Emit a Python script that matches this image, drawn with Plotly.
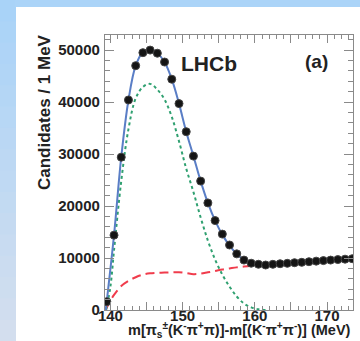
import plotly.graph_objects as go

# ---- data ----
bin_centers = [139.5, 140.5, 141.5, 142.5, 143.5, 144.5, 145.5, 146.5, 147.5, 148.5,
               149.5, 150.5, 151.5, 152.5, 153.5, 154.5, 155.5, 156.5, 157.5, 158.5,
               159.5, 160.5, 161.5, 162.5, 163.5, 164.5, 165.5, 166.5, 167.5, 168.5,
               169.5, 170.5, 171.5, 172.5, 173.5]
candidates = [1600, 14400, 29400, 40400, 47000, 49500, 50000, 49400, 47700, 44400,
              39700, 34300, 29600, 24800, 20600, 17200, 14600, 12500, 10800, 9600,
              9000, 8800, 8650, 8790, 8900, 8980, 9100, 9170, 9290, 9400,
              9500, 9600, 9700, 9780, 9870]

fit_x = [139.35, 139.5, 140.5, 141.5, 142.5, 143.5, 144.5, 145.5, 146.5, 147.5, 148.5,
         149.5, 150.5, 151.5, 152.5, 153.5, 154.5, 155.5, 156.5, 157.5, 158.5,
         159.5, 160.5, 161.5, 162.5, 163.5, 164.5, 165.5, 166.5, 167.5, 168.5,
         169.5, 170.5, 171.5, 172.5, 173.6]
fit_total = [0, 1700, 14400, 29400, 40400, 47000, 49600, 50100, 49400, 47700, 44400,
             39700, 34300, 29600, 24800, 20600, 17200, 14500, 12400, 10800, 9600,
             9000, 8750, 8700, 8780, 8880, 8980, 9080, 9180, 9280, 9380,
             9480, 9580, 9680, 9770, 9870]

sig_x = [139.4, 140.0, 140.5, 141.5, 142.5, 143.5, 144.5, 145.5, 146.5, 147.5, 148.5,
         149.5, 150.5, 151.5, 152.5, 153.5, 154.5, 155.5, 156.5, 157.5, 158.5,
         159.5, 160.5, 161.5]
sig_y = [0, 4500, 11500, 24800, 34800, 40700, 42900, 43500, 42400, 40500, 37150,
         32450, 27200, 22700, 17800, 13350, 9700, 6800, 4500, 2600, 1250,
         500, 150, 0]

bkg_x = [139.35, 139.8, 140.5, 141.5, 142.5, 143.5, 144.5, 145.5, 146.5, 147.5, 148.5,
         149.5, 150.5, 151.5, 152.5, 153.5, 154.5, 155.5, 156.5, 157.5, 158.5,
         159.5, 160.5, 161.5, 163.5, 165.5, 167.5, 169.5, 171.5, 173.6]
bkg_y = [0, 1300, 2900, 4600, 5600, 6300, 6800, 7050, 7150, 7200, 7250,
         7250, 7100, 6900, 7000, 7250, 7500, 7800, 8000, 8200, 8350,
         8500, 8650, 8700, 8880, 9080, 9280, 9480, 9680, 9870]

x_tickvals = [140, 145, 150, 155, 160, 165, 170]
x_ticktext = ["140", "", "150", "", "160", "", "170"]
y_tickvals = [0, 10000, 20000, 30000, 40000, 50000]
y_ticktext = ["0", "10000", "20000", "30000", "40000", "50000"]

# ---- figure ----
fig = go.Figure()
fig.add_trace(go.Scatter(x=bkg_x, y=bkg_y, mode="lines",
                         line=dict(color="#f03c4c", width=2, dash="9px,5px", shape="spline"),
                         hoverinfo="skip"))
fig.add_trace(go.Scatter(x=sig_x, y=sig_y, mode="lines",
                         line=dict(color="#2fa070", width=2, dash="dot", shape="spline"),
                         hoverinfo="skip"))
fig.add_trace(go.Scatter(x=fit_x, y=fit_total, mode="lines",
                         line=dict(color="#5a7ec6", width=2, shape="spline"),
                         hoverinfo="skip"))
fig.add_trace(go.Scatter(x=bin_centers, y=candidates, mode="markers",
                         marker=dict(color="#151515", size=8,
                                     line=dict(color="#444444", width=1))))

L, R, T, B = 105, 7, 35, 31
W, H = 360, 341
pw, ph = W - L - R, H - T - B

def px_x(px):
    return (px - L) / pw

def px_y(py):
    return (H - B - py) / ph

# background: blue gradient frame on left/top, white page
shapes = []
n = 16
c0 = (0xA9, 0xD3, 0xF8)
c1 = (0xD3, 0xDE, 0xEE)
for i in range(n):
    t = i / (n - 1)
    col = "rgb(%d,%d,%d)" % tuple(round(c0[j] + (c1[j] - c0[j]) * t) for j in range(3))
    y_top = H * i / n
    y_bot = H * (i + 1) / n + 1
    shapes.append(dict(type="rect", xref="paper", yref="paper", layer="below",
                       x0=px_x(-2), x1=px_x(16), y0=px_y(y_bot), y1=px_y(y_top),
                       line=dict(width=0), fillcolor=col))
shapes.append(dict(type="rect", xref="paper", yref="paper", layer="below",
                   x0=px_x(15), x1=px_x(W + 2), y0=px_y(7), y1=px_y(-2),
                   line=dict(width=0), fillcolor="#abd4f8"))

axis_common = dict(showline=True, linecolor="#8a8a8a", linewidth=1.2, mirror="allticks",
                   ticks="inside", tickcolor="#8a8a8a", showgrid=False, zeroline=False,
                   tickfont=dict(family="Liberation Sans", size=15, color="#222222",
                                 weight="bold"))

fig.update_layout(
    width=W, height=H,
    margin=dict(l=L, r=R, t=T, b=B),
    paper_bgcolor="white", plot_bgcolor="white",
    showlegend=False,
    shapes=shapes,
    xaxis=dict(range=[139.25, 173.6], tickvals=x_tickvals, ticktext=x_ticktext,
               ticklen=8, tickwidth=1, ticklabelstandoff=-8,
               minor=dict(dtick=1, tick0=140, ticks="inside", ticklen=4,
                          tickcolor="#8a8a8a"),
               **axis_common),
    yaxis=dict(range=[0, 52900], tickvals=y_tickvals, ticktext=y_ticktext,
               ticklen=9, tickwidth=1, ticklabelstandoff=1,
               minor=dict(dtick=2000, tick0=0, ticks="inside", ticklen=5,
                          tickcolor="#8a8a8a"),
               **axis_common),
    annotations=[
        dict(text="Candidates / 1 MeV", textangle=-90, showarrow=False,
             xref="paper", yref="paper", x=px_x(45), y=px_y(32),
             xanchor="center", yanchor="top",
             font=dict(family="Liberation Sans", size=17, color="#222222", weight="bold")),
        dict(text="m[π<sub>s</sub><sup>±</sup>(K<sup>-</sup>π<sup>+</sup>π)]-m[(K<sup>-</sup>π<sup>+</sup>π<sup>-</sup>)] (MeV)",
             showarrow=False, xref="paper", yref="paper",
             x=px_x(353), y=px_y(342), xanchor="right", yanchor="bottom",
             font=dict(family="Liberation Sans", size=14.5, color="#222222", weight="bold")),
        dict(text="LHCb", showarrow=False, xref="paper", yref="paper",
             x=px_x(179), y=px_y(63), xanchor="left", yanchor="middle",
             font=dict(family="Liberation Sans", size=21, color="#222222", weight="bold")),
        dict(text="(a)", showarrow=False, xref="paper", yref="paper",
             x=px_x(316), y=px_y(62), xanchor="center", yanchor="middle",
             font=dict(family="Liberation Sans", size=19, color="#222222", weight="bold")),
    ],
)

fig.write_html("out.html",
               config={"displayModeBar": False},
               post_script="document.body.style.margin='0';document.body.style.overflow='hidden';")
